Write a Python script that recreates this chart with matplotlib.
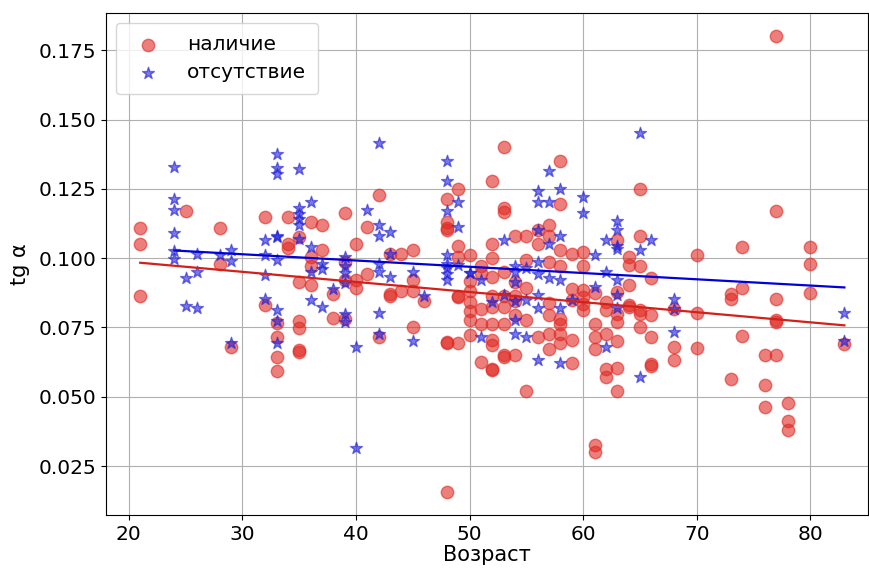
import matplotlib
matplotlib.use("Agg")
import matplotlib.pyplot as plt
import numpy as np

# наличие (red circles): age -> tg alpha values
red_ages = [21, 25, 28, 29, 32, 33, 34, 35, 36, 37, 38, 39, 40, 41, 42, 43, 44, 45, 46,
            48, 49, 50, 51, 52, 53, 54, 55, 56, 57, 58, 59, 60, 61, 62, 63, 64, 65, 66,
            68, 70, 73, 74, 76, 77, 78, 80, 83]
red_vals = [
    [0.111, 0.105, 0.0864],
    [0.117],
    [0.111, 0.098],
    [0.068],
    [0.115, 0.083],
    [0.0765, 0.0715, 0.0643, 0.0594],
    [0.115, 0.105, 0.1036],
    [0.1077, 0.0913, 0.0773, 0.0748, 0.067, 0.066],
    [0.113, 0.1005, 0.097, 0.0903],
    [0.112, 0.103],
    [0.087, 0.0783],
    [0.1163, 0.0985, 0.092, 0.078],
    [0.105, 0.092, 0.0893],
    [0.1113, 0.0942],
    [0.1227, 0.0715],
    [0.1014, 0.087, 0.0865],
    [0.1014, 0.088],
    [0.103, 0.092, 0.088, 0.0752],
    [0.0845],
    [0.1213, 0.113, 0.111, 0.110, 0.0698, 0.0693, 0.0156],
    [0.125, 0.1043, 0.1005, 0.0863, 0.0860, 0.0694],
    [0.1013, 0.0918, 0.0882, 0.0842, 0.081, 0.0776, 0.0722],
    [0.0972, 0.0945, 0.0815, 0.0764, 0.0626],
    [0.128, 0.105, 0.100, 0.0933, 0.0863, 0.0824, 0.0764, 0.0704, 0.0686, 0.0602, 0.0595],
    [0.140, 0.118, 0.1167, 0.095, 0.0863, 0.0824, 0.0764, 0.065, 0.0645],
    [0.108, 0.0915, 0.0863, 0.0845, 0.0795, 0.065],
    [0.108, 0.0993, 0.0894, 0.0776, 0.0521],
    [0.110, 0.105, 0.0714],
    [0.112, 0.108, 0.0985, 0.0839, 0.0794, 0.0728, 0.0674],
    [0.135, 0.1195, 0.1031, 0.097, 0.0782, 0.0764, 0.0728, 0.0694],
    [0.1014, 0.089, 0.0848, 0.0704, 0.0622],
    [0.1023, 0.097, 0.0885, 0.086, 0.0836, 0.0812],
    [0.0873, 0.0764, 0.0716, 0.0674, 0.0325, 0.030],
    [0.0842, 0.0812, 0.0728, 0.060, 0.0572],
    [0.1065, 0.0878, 0.0798, 0.077, 0.0702, 0.0603, 0.0521],
    [0.1003, 0.0975, 0.0903, 0.083, 0.0825],
    [0.125, 0.108, 0.0972, 0.0812, 0.080, 0.075],
    [0.093, 0.0794, 0.0714, 0.0618, 0.0612],
    [0.0818, 0.0678, 0.0632],
    [0.1013, 0.0803, 0.0677],
    [0.087, 0.0851, 0.0563],
    [0.104, 0.0893, 0.072],
    [0.065, 0.0542, 0.0464],
    [0.180, 0.117, 0.0851, 0.0776, 0.077, 0.065],
    [0.0478, 0.0412, 0.038],
    [0.104, 0.0978, 0.0873],
    [0.0692],
]

# отсутствие (blue stars)
blue_ages = [24, 25, 26, 28, 29, 32, 33, 35, 36, 37, 38, 39, 40, 41, 42, 43, 45, 46,
             48, 49, 50, 51, 52, 53, 54, 55, 56, 57, 58, 59, 60, 61, 62, 63, 65, 66, 68, 83]
blue_vals = [
    [0.133, 0.1213, 0.1173, 0.109, 0.1026, 0.0996],
    [0.093, 0.0826],
    [0.1014, 0.095, 0.082],
    [0.101],
    [0.103, 0.099, 0.0694],
    [0.1067, 0.1013, 0.094, 0.0852],
    [0.1374, 0.1324, 0.1302, 0.108, 0.1075, 0.0993, 0.0812, 0.0773, 0.0695],
    [0.1322, 0.118, 0.116, 0.114, 0.112, 0.107],
    [0.1203, 0.104, 0.095, 0.085],
    [0.098, 0.096, 0.0823],
    [0.089],
    [0.1005, 0.097, 0.0945, 0.091, 0.080, 0.0769],
    [0.068, 0.0315],
    [0.1173],
    [0.1414, 0.112, 0.108, 0.098, 0.095, 0.0803, 0.0726],
    [0.1093, 0.1014, 0.0931],
    [0.095, 0.070],
    [0.0863],
    [0.135, 0.128, 0.117, 0.101, 0.098, 0.0964, 0.0942, 0.092],
    [0.1203, 0.1113, 0.0975],
    [0.0946, 0.0945],
    [0.092, 0.0714],
    [0.0843],
    [0.1065, 0.0866],
    [0.097, 0.095, 0.0915, 0.0845, 0.0776, 0.0728],
    [0.0965, 0.0848, 0.0714],
    [0.1243, 0.1203, 0.110, 0.0985, 0.0944, 0.0866, 0.0822, 0.0634],
    [0.1314, 0.1203, 0.105, 0.093],
    [0.125, 0.108, 0.092, 0.0822, 0.0622],
    [0.0848],
    [0.1221, 0.1163],
    [0.101, 0.0897],
    [0.1065, 0.095, 0.068],
    [0.1133, 0.1103, 0.1043, 0.1032, 0.092, 0.0866, 0.0822],
    [0.145, 0.1031, 0.0572],
    [0.1065],
    [0.0851, 0.0818, 0.0732],
    [0.0803, 0.0702],
]


def flatten(ages, vals):
    xs, ys = [], []
    for a, v in zip(ages, vals):
        xs += [a] * len(v)
        ys += v
    return np.array(xs, float), np.array(ys, float)


xr, yr = flatten(red_ages, red_vals)
xb, yb = flatten(blue_ages, blue_vals)

fig = plt.figure(figsize=(8.7, 5.68), dpi=100)
ax = fig.add_axes([0.122, 0.093, 0.876, 0.884])

ax.scatter(xr, yr, s=80, color='#e02a24', alpha=0.6, marker='o', label='наличие', zorder=2)
ax.scatter(xb, yb, s=80, color='#2020d8', alpha=0.6, marker='*', label='отсутствие', zorder=3)

# линии регрессии
kr = np.polyfit(xr, yr, 1)
kb = np.polyfit(xb, yb, 1)
lr = np.array([xr.min(), xr.max()])
lb = np.array([xb.min(), xb.max()])
ax.plot(lr, np.polyval(kr, lr), color='#d42018', lw=1.6, zorder=4)
ax.plot(lb, np.polyval(kb, lb), color='#0000dd', lw=1.6, zorder=4)

ax.set_xlim(18, 85.1)
ax.set_ylim(0.0073, 0.1884)
ax.set_xticks([20, 30, 40, 50, 60, 70, 80])
ax.set_yticks([0.025, 0.050, 0.075, 0.100, 0.125, 0.150, 0.175])
ax.set_yticklabels(['0.025', '0.050', '0.075', '0.100', '0.125', '0.150', '0.175'])
ax.tick_params(labelsize=14.5)
ax.grid(True, color='#b0b0b0', lw=0.8)
ax.set_axisbelow(True)
ax.set_xlabel('Возраст', fontsize=15, labelpad=1)
ax.set_ylabel('tg α', fontsize=15, labelpad=6)
ax.legend(loc='upper left', fontsize=14.5, markerscale=1.0, handletextpad=0.9,
          borderpad=0.6, labelspacing=0.45)

fig.savefig('out.png', dpi=100)
